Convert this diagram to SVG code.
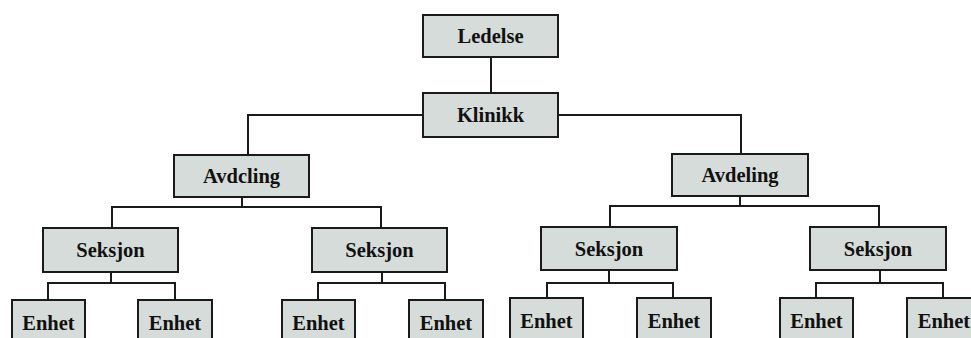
<svg xmlns="http://www.w3.org/2000/svg" width="971" height="338" viewBox="0 0 971 338">
<style>
.box{fill:#d6dcd9;stroke:#1a1a1a;stroke-width:2}
.lbl{font-family:"Liberation Serif","Times New Roman",serif;font-weight:bold;font-size:20.5px;fill:#111;text-anchor:middle}
.con{fill:none;stroke:#1a1a1a;stroke-width:2}
</style>
<rect width="971" height="338" fill="#fff"/>
<g id="connectors">
<path class="con" d="M491 57V93"/>
<path class="con" d="M423 115H248V155"/>
<path class="con" d="M558 115H741V154"/>
<path class="con" d="M242 197V207M112 228V207H381V228"/>
<path class="con" d="M111 272V283M48 300V283H175V300"/>
<path class="con" d="M382 272V283M318 300V283H445V300"/>
<path class="con" d="M740 196V206M610 227V206H879V227"/>
<path class="con" d="M609 270V283M547 298V283H673V298"/>
<path class="con" d="M880 270V283M816 298V283H943V298"/>
</g>
<g id="ledelse"><rect class="box" x="423" y="15" width="135" height="42"/><text class="lbl" x="490.5" y="43">Ledelse</text></g>
<g id="klinikk"><rect class="box" x="423" y="93" width="135" height="44"/><text class="lbl" x="490.5" y="122">Klinikk</text></g>
<g id="avd1"><rect class="box" x="174" y="155" width="135" height="42"/><text class="lbl" x="241.5" y="183">Avdcling</text></g>
<g id="avd2"><rect class="box" x="672" y="154" width="136" height="42"/><text class="lbl" x="740" y="182">Avdeling</text></g>
<g id="sek1"><rect class="box" x="43" y="228" width="135" height="44"/><text class="lbl" x="110.5" y="257">Seksjon</text></g>
<g id="sek2"><rect class="box" x="312" y="228" width="135" height="44"/><text class="lbl" x="379.5" y="257">Seksjon</text></g>
<g id="sek3"><rect class="box" x="541" y="227" width="136" height="43"/><text class="lbl" x="609" y="256">Seksjon</text></g>
<g id="sek4"><rect class="box" x="810" y="227" width="136" height="43"/><text class="lbl" x="878" y="256">Seksjon</text></g>
<g id="enh1"><rect class="box" x="12" y="300" width="73" height="50"/><text class="lbl" x="48.5" y="330">Enhet</text></g>
<g id="enh2"><rect class="box" x="138" y="300" width="74" height="50"/><text class="lbl" x="175" y="330">Enhet</text></g>
<g id="enh3"><rect class="box" x="282" y="300" width="73" height="50"/><text class="lbl" x="318.5" y="330">Enhet</text></g>
<g id="enh4"><rect class="box" x="409" y="300" width="74" height="50"/><text class="lbl" x="446" y="330">Enhet</text></g>
<g id="enh5"><rect class="box" x="510" y="298" width="73" height="50"/><text class="lbl" x="546.5" y="328">Enhet</text></g>
<g id="enh6"><rect class="box" x="637" y="298" width="74" height="50"/><text class="lbl" x="674" y="328">Enhet</text></g>
<g id="enh7"><rect class="box" x="780" y="298" width="73" height="50"/><text class="lbl" x="816.5" y="328">Enhet</text></g>
<g id="enh8"><rect class="box" x="907" y="298" width="74" height="50"/><text class="lbl" x="944" y="328">Enhet</text></g>
</svg>
